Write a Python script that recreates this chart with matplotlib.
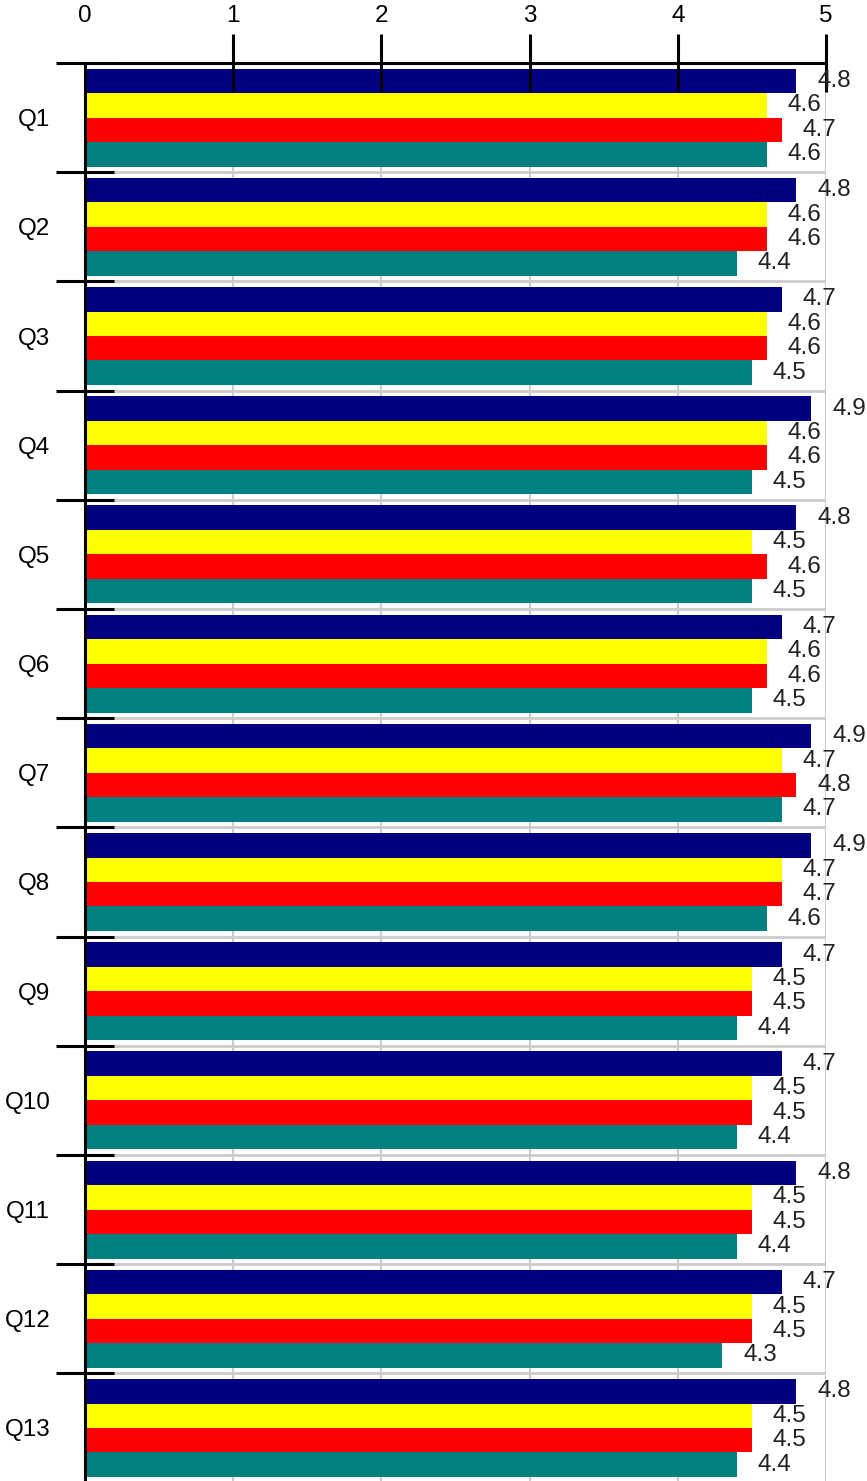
"""Grouped horizontal bars, Q1..Q13, four series."""
import numpy as np
import matplotlib.pyplot as plt
import matplotlib as mpl

mpl.rcParams.update({'font.family': ['Liberation Sans', 'DejaVu Sans'], 'font.size': 17})

questions = ['Q1', 'Q2', 'Q3', 'Q4', 'Q5', 'Q6', 'Q7', 'Q8', 'Q9', 'Q10', 'Q11', 'Q12', 'Q13']
s_navy   = [4.8, 4.8, 4.7, 4.9, 4.8, 4.7, 4.9, 4.9, 4.7, 4.7, 4.8, 4.7, 4.8]
s_yellow = [4.6, 4.6, 4.6, 4.6, 4.5, 4.6, 4.7, 4.7, 4.5, 4.5, 4.5, 4.5, 4.5]
s_red    = [4.7, 4.6, 4.6, 4.6, 4.6, 4.6, 4.8, 4.7, 4.5, 4.5, 4.5, 4.5, 4.5]
s_teal   = [4.6, 4.4, 4.5, 4.5, 4.5, 4.5, 4.7, 4.6, 4.4, 4.4, 4.4, 4.3, 4.4]
x_ticks = [0, 1, 2, 3, 4, 5]

series = [s_navy, s_yellow, s_red, s_teal]
colors = ['#000080', '#ffff00', '#ff0000', '#008080']
FS = 17.5

fig = plt.figure(figsize=(8.67, 14.81), dpi=100)
ax = fig.add_axes([85 / 867, 0.0, (826 - 85) / 867, 1 - 63 / 1481])

n = len(questions)
h = 0.224
start = (1 - 4 * h) / 2
idx = np.arange(n)

# light grid drawn by hand so the axis ticks can sit above the bars
for xv in x_ticks[1:]:
    ax.axvline(xv, color='#cccccc', linewidth=1.5, zorder=0.5)
for yb in range(1, n):
    ax.axhline(yb, color='#cccccc', linewidth=2, zorder=0.5)

for k, (vals, c) in enumerate(zip(series, colors)):
    y = idx + start + (k + 0.5) * h
    ax.barh(y, vals, height=h, color=c, edgecolor='none', zorder=1)
    for yy, v in zip(y, vals):
        ax.annotate(f'{v:.1f}', (v, yy), xytext=(15, 0), textcoords='offset points',
                    ha='left', va='center', fontsize=FS, color='#222222',
                    annotation_clip=False, zorder=4)

ax.set_xlim(0, 5)
ax.set_ylim((1481 - 63) / 109.2, 0)

# x axis on top, long ticks crossing the spine
ax.xaxis.tick_top()
ax.set_xticks(x_ticks)
ax.tick_params(axis='x', direction='inout', length=42, width=2.2, pad=5, labelsize=FS)
ax.xaxis.get_major_ticks()[0].tick2line.set_visible(False)

# group boundaries as major y ticks, labels as minor ticks
ax.set_yticks(np.arange(0, n))
ax.set_yticklabels([])
ax.set_yticks(idx + 0.5, minor=True)
ax.set_yticklabels(questions, minor=True)
ax.tick_params(axis='y', which='major', direction='inout', length=42, width=2.2)
ax.tick_params(axis='y', which='minor', length=0, pad=25, labelsize=FS)

ax.set_axisbelow(False)
for s in ['right', 'bottom']:
    ax.spines[s].set_visible(False)
for s in ['top', 'left']:
    ax.spines[s].set_linewidth(2.2)

plt.savefig('out.png', dpi=100)
